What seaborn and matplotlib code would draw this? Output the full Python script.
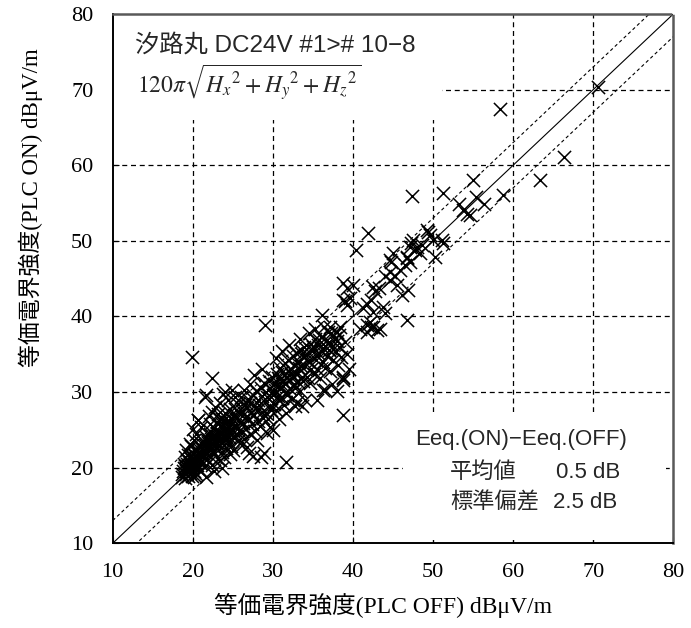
import numpy as np
import pandas as pd
import seaborn as sns
import matplotlib.pyplot as plt
from matplotlib.patches import Rectangle

# ──────────────────────────────
# Data
# ──────────────────────────────
# dense band, x = PLC OFF, y = PLC ON  (dBuV/m)
band_off = [
    18.6, 18.8, 19.0, 19.0, 19.2, 19.3, 19.4, 19.5, 19.6, 19.7, 19.8, 19.9, 20.0, 20.0, 20.1, 20.2, 20.3, 20.4,
    20.5, 20.5, 20.6, 20.7, 20.8, 20.9, 21.0, 21.0, 21.1, 21.2, 21.3, 21.4, 21.5, 21.6, 21.7, 21.8, 21.9, 22.0,
    22.0, 19.2, 19.6, 20.2, 20.4, 19.8, 20.0, 20.6, 21.0, 18.9, 19.4, 19.1, 19.7, 20.3,
    22.1, 22.2, 22.3, 22.4, 22.5, 22.6, 22.7, 22.8, 22.9, 23.0, 23.0, 23.1, 23.2, 23.3, 23.4, 23.5, 23.6, 23.7,
    23.8, 23.9, 24.0, 24.0, 24.1, 24.2, 24.3, 24.4, 24.5, 24.6, 24.7, 24.8, 24.9, 25.0, 25.1, 25.2, 25.3, 25.4,
    25.5, 25.6, 25.7, 25.8, 25.9, 26.0, 22.4, 22.8, 23.4, 22.0, 23.2, 25.3, 24.4, 23.8, 22.6, 23.9, 25.0, 24.6,
    21.6, 22.2,
    26.1, 26.2, 26.3, 26.4, 26.5, 26.6, 26.7, 26.8, 26.9, 27.0, 27.1, 27.2, 27.3, 27.4, 27.5, 27.6, 27.7, 27.8,
    27.9, 28.0, 28.1, 28.2, 28.3, 28.4, 28.5, 28.6, 28.7, 28.8, 28.9, 29.0, 29.1, 29.2, 29.3, 29.4, 29.5, 29.6,
    29.7, 29.8, 29.9, 30.0, 26.4, 27.2, 26.8, 28.0, 27.6, 28.6, 26.0, 29.3, 28.9, 27.0,
    30.1, 30.2, 30.3, 30.4, 30.5, 30.6, 30.7, 30.8, 30.9, 31.0, 31.1, 31.2, 31.3, 31.4, 31.5, 31.6, 31.7, 31.8,
    31.9, 32.0, 32.1, 32.2, 32.3, 32.4, 32.5, 32.6, 32.7, 32.8, 32.9, 33.0, 33.1, 33.2, 33.3, 33.4, 33.5, 33.6,
    33.7, 33.8, 33.9, 34.0, 30.4, 31.2, 32.0, 30.8, 31.6, 32.8, 33.4, 34.0,
    34.2, 34.3, 34.4, 34.6, 34.7, 34.8, 35.0, 35.1, 35.2, 35.4, 35.5, 35.6, 35.8, 35.9, 36.0, 36.2, 36.3, 36.5,
    36.6, 36.8, 37.0, 37.1, 37.3, 37.5, 37.7, 37.9, 38.1, 38.3, 38.5, 38.7, 39.0, 39.3, 34.5, 35.3, 36.4, 37.4,
    38.0, 39.5,
    18.7, 18.9, 19.1, 19.3, 19.5, 19.7, 19.9, 20.1, 20.3, 20.5, 20.7, 20.9, 21.1, 21.3, 21.5, 21.7, 21.9, 22.1,
    22.3, 22.5, 22.7, 22.9, 23.1, 23.3, 23.5, 23.7, 23.9, 24.1, 24.3, 24.5, 19.0, 19.4, 19.8, 20.2, 20.6, 21.0,
    21.4, 21.8, 22.2, 22.6, 23.0, 23.4, 23.8, 24.2, 24.6, 25.0, 25.4, 25.8, 26.2, 26.6,
    30.5, 31.0, 31.5, 32.0, 32.5, 33.0, 33.5, 34.0, 34.5, 35.0, 35.5, 36.0, 36.5, 37.0, 37.5, 38.0, 30.2, 31.3,
    32.4, 33.6, 34.7, 35.8, 36.9, 38.2,
]
band_on = [
    18.8, 19.5, 18.7, 20.2, 19.1, 21.0, 18.9, 19.8, 20.6, 19.3, 21.5, 18.9, 20.1, 22.0, 19.5, 20.8, 21.6, 19.2,
    22.4, 20.3, 21.1, 19.8, 23.0, 20.6, 21.8, 19.6, 22.6, 20.9, 21.4, 23.4, 20.2, 22.0, 24.0, 21.2, 22.8, 20.7,
    23.6, 22.4, 23.1, 23.6, 24.4, 22.9, 25.1, 26.3, 25.4, 20.5, 21.7, 19.8, 20.4, 18.9,
    21.5, 24.4, 22.3, 20.3, 23.1, 25.2, 21.8, 24.0, 22.6, 26.0, 23.4, 21.2, 24.7, 22.9, 25.5, 23.8, 22.1, 26.4,
    24.3, 23.0, 25.1, 27.2, 22.6, 24.0, 26.0, 23.5, 25.4, 27.8, 24.6, 22.9, 26.4, 25.0, 23.9, 27.0, 25.7, 24.4,
    26.6, 28.4, 25.2, 23.6, 27.2, 26.0, 27.4, 28.0, 28.6, 26.8, 27.1, 29.4, 29.0, 29.8, 19.6, 21.4, 22.4, 21.8,
    18.8, 25.8,
    24.8, 27.5, 25.9, 23.8, 28.3, 26.7, 25.1, 27.9, 29.1, 26.4, 24.5, 28.6, 27.2, 25.8, 29.6, 26.9, 28.1, 24.9,
    30.2, 27.6, 26.2, 29.0, 28.3, 25.5, 30.6, 27.4, 29.5, 26.6, 31.2, 28.7, 27.2, 30.0, 29.3, 26.4, 31.5, 28.2,
    30.5, 27.6, 32.0, 29.6, 30.3, 31.0, 22.8, 23.6, 32.2, 33.0, 29.3, 24.6, 22.0, 21.9,
    28.4, 31.1, 30.3, 27.6, 32.4, 29.5, 31.8, 28.9, 33.2, 30.7, 29.2, 32.6, 31.4, 28.3, 33.8, 30.0, 32.0, 29.6,
    34.3, 31.6, 30.4, 33.1, 32.4, 29.1, 34.8, 31.0, 33.6, 30.6, 35.2, 32.4, 31.3, 34.0, 33.2, 30.2, 35.6, 32.0,
    34.6, 31.5, 36.0, 33.5, 34.5, 35.4, 36.2, 26.4, 27.2, 28.2, 37.0, 28.9,
    32.0, 35.0, 34.1, 31.2, 36.4, 33.0, 35.5, 32.4, 37.0, 34.2, 33.0, 36.2, 35.0, 31.8, 37.3, 34.0, 35.8, 33.2,
    36.8, 34.8, 35.6, 32.8, 36.3, 34.2, 37.2, 35.3, 33.6, 36.0, 34.6, 32.0, 36.6, 35.0, 37.8, 38.4, 38.6, 31.0,
    30.2, 33.0,
    19.2, 20.0, 19.6, 20.5, 20.9, 21.3, 20.4, 21.0, 22.2, 21.4, 22.0, 22.7, 21.6, 22.3, 23.0, 22.5, 23.3, 22.9,
    23.8, 22.2, 23.5, 24.2, 23.0, 24.0, 24.6, 23.2, 25.0, 24.4, 25.3, 24.0, 21.4, 20.2, 20.0, 21.3, 22.6, 23.2,
    22.4, 23.7, 24.8, 23.7, 24.6, 26.4, 25.7, 26.6, 25.9, 26.8, 27.6, 24.9, 26.8, 28.6,
    30.9, 31.9, 31.2, 32.8, 32.1, 33.9, 33.4, 34.9, 34.0, 35.9, 34.8, 35.4, 36.1, 36.6, 35.7, 36.8, 29.8, 30.8,
    31.8, 35.0, 35.6, 36.9, 37.9, 37.5,
]
# scattered points away from the band
sparse_off = [
    70.6, 58.4, 66.3, 63.3, 55.0, 58.7, 51.3, 47.4, 55.4, 56.3, 53.2, 53.8, 54.2, 54.6, 49.2, 49.6, 50.0, 51.1,
    47.5, 47.1, 45.0, 44.6, 46.7, 48.0, 50.2, 41.9, 40.4, 49.4, 47.3, 47.7, 48.4, 48.6, 51.3, 46.7, 46.5, 47.1,
    44.8, 44.6, 45.9, 44.0, 44.6, 45.2, 45.5, 42.5, 43.2, 42.8, 46.9, 46.1, 38.8, 39.2, 40.0, 39.6, 38.8, 39.2,
    41.3, 41.7, 42.3, 43.8, 44.0, 42.1, 42.5, 43.0, 41.7, 46.7, 38.4, 29.0, 36.1, 39.0, 42.5, 40.9, 41.7, 42.3,
    43.4, 37.1, 38.0, 37.3, 38.8, 36.5, 35.5, 33.0, 33.6, 38.8, 19.9, 22.4, 38.8, 36.3, 31.7, 27.5, 28.5, 20.7,
    21.5, 24.0, 24.9, 29.6, 23.6, 23.4, 30.0, 26.1, 21.7,
]
sparse_on = [
    70.3, 67.4, 61.1, 58.0, 58.0, 56.1, 56.3, 55.9, 55.8, 54.9, 54.9, 54.1, 53.6, 53.4, 51.4, 50.8, 50.1, 50.1,
    50.1, 49.2, 48.4, 47.5, 47.9, 49.2, 47.9, 51.1, 48.8, 51.2, 49.7, 48.8, 48.4, 49.5, 49.7, 47.7, 46.8, 47.2,
    47.2, 45.9, 46.1, 45.3, 44.8, 45.3, 44.2, 43.9, 43.7, 43.3, 43.5, 42.8, 44.4, 43.7, 44.2, 42.4, 42.2, 41.5,
    41.1, 41.7, 42.2, 41.3, 40.4, 39.3, 38.6, 38.2, 38.0, 39.5, 38.6, 38.9, 40.2, 42.0, 40.6, 38.4, 38.9, 38.6,
    38.4, 38.6, 38.0, 37.8, 31.6, 30.3, 29.0, 28.7, 28.1, 27.0, 34.7, 31.8, 31.8, 30.3, 20.8, 21.5, 21.4, 26.3,
    29.4, 30.0, 30.3, 25.4, 19.9, 21.0, 25.0, 23.0, 29.6,
]

axis_min, axis_max = 10, 80
tick_vals = [10, 20, 30, 40, 50, 60, 70, 80]
grid_vals = [20, 30, 40, 50, 60, 70]
band_db = 3.0          # dashed guide lines, y = x +/- band_db
mean_db, std_db = 0.5, 2.5

df = pd.DataFrame({
    "off": band_off + sparse_off,
    "on": band_on + sparse_on,
})

# ──────────────────────────────
# Style
# ──────────────────────────────
sns.set_theme(style="white")
plt.rcParams["font.family"] = ["Liberation Serif", "Noto Sans CJK JP", "DejaVu Sans"]
plt.rcParams["mathtext.fontset"] = "stix"
SANS = ["Liberation Sans", "Noto Sans CJK JP", "DejaVu Sans"]

fig = plt.figure(figsize=(6.91, 6.28), dpi=100)
ax = fig.add_axes([0.1631, 0.1349, 0.8113, 0.8428])

# grid (dashed) drawn by hand so the text boxes can cover it
for g in grid_vals:
    ax.axvline(g, color="black", lw=0.9, ls=(0, (4, 3)), zorder=0.5)
    ax.axhline(g, color="black", lw=0.9, ls=(0, (4, 3)), zorder=0.5)

# white boxes behind the annotations
ax.add_patch(Rectangle((axis_min, 66.0), 41.1, 14.0, facecolor="white", edgecolor="none", zorder=1))
ax.add_patch(Rectangle((46.3, 10.5), 32.8, 16.8, facecolor="white", edgecolor="none", zorder=1))

# reference lines
diag = np.array([axis_min, axis_max])
ax.plot(diag, diag, color="black", lw=0.8, zorder=1.5)
ax.plot(diag, diag + band_db, color="black", lw=0.8, ls=(0, (3, 2.5)), zorder=1.5)
ax.plot(diag, diag - band_db, color="black", lw=0.8, ls=(0, (3, 2.5)), zorder=1.5)

sns.scatterplot(data=df, x="off", y="on", marker="x", color="black",
                s=90, linewidth=1.1, ax=ax, zorder=2, legend=False)

ax.set_xlim(axis_min, axis_max)
ax.set_ylim(axis_min, axis_max)
ax.set_xticks(tick_vals)
ax.set_yticks(tick_vals)
ax.tick_params(direction="in", length=4, width=0.8, labelsize=16, pad=14,
               bottom=True, left=True, colors="black")

for side in ["left", "bottom"]:
    ax.spines[side].set_color("black")
    ax.spines[side].set_linewidth(1.4)
for side in ["top", "right"]:
    ax.spines[side].set_color("0.35")
    ax.spines[side].set_linewidth(1.8)
    ax.spines[side].set_linestyle((0, (3, 1)))

ax.set_xlabel("等価電界強度(PLC OFF) dBμV/m", fontsize=17, color="black")
ax.set_ylabel("等価電界強度(PLC ON) dBμV/m", fontsize=16.5, color="black")
ax.xaxis.set_label_coords(0.482, -0.094)
ax.yaxis.set_label_coords(-0.124, 0.635)

# annotations
ax.text(12.8, 75.9, "汐路丸 DC24V #1># 10−8", fontsize=17.5, family=SANS,
        va="center", ha="left", zorder=3)
ax.text(13.0, 70.9, r"$120\pi\sqrt{H_x{}^{2}+H_y{}^{2}+H_z{}^{2}}$", fontsize=17,
        va="center", ha="left", zorder=3)

ax.text(47.7, 23.7, "Eeq.(ON)−Eeq.(OFF)", fontsize=16, family=SANS, va="center", ha="left", zorder=3)
ax.text(52.1, 19.4, "平均値", fontsize=16, family=SANS, va="center", ha="left", zorder=3)
ax.text(65.4, 19.4, f"{mean_db:.1f} dB", fontsize=16, family=SANS, va="center", ha="left", zorder=3)
ax.text(52.1, 15.4, "標準偏差", fontsize=16, family=SANS, va="center", ha="left", zorder=3)
ax.text(65.0, 15.4, f"{std_db:.1f} dB", fontsize=16, family=SANS, va="center", ha="left", zorder=3)

fig.savefig("out.png", dpi=100)
plt.close(fig)
